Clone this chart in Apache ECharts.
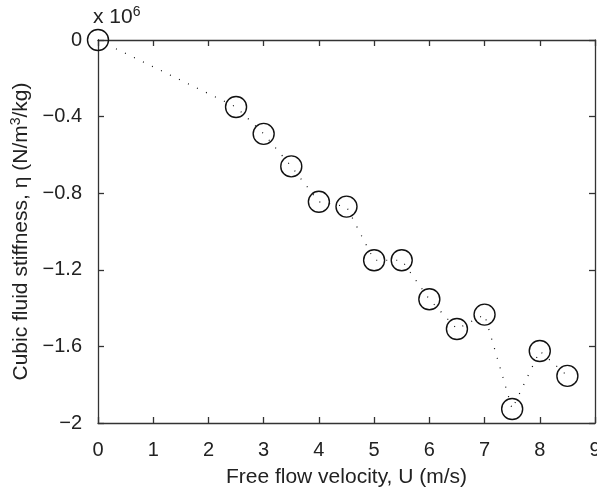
<!DOCTYPE html>
<html><head><meta charset="utf-8">
<script src="https://cdn.jsdelivr.net/npm/echarts@6/dist/echarts.min.js"></script>
<style>html,body{margin:0;padding:0;background:#fff}#c{width:597px;height:496px}</style>
</head><body><div id="c"></div>
<script>
const velocity = [0, 2.5, 3, 3.5, 4, 4.5, 5, 5.5, 6, 6.5, 7, 7.5, 8, 8.5];
const stiffness = [0, -0.35, -0.49, -0.66, -0.845, -0.87, -1.15, -1.15, -1.354, -1.509, -1.434, -1.927, -1.624, -1.754];
const xTicks = [0, 1, 2, 3, 4, 5, 6, 7, 8, 9];
const yTicks = [-2, -1.6, -1.2, -0.8, -0.4, 0];

const chart = echarts.init(document.getElementById('c'));
const font = 'Liberation Sans, Arial, Helvetica, sans-serif';
const txt = '#222';
const axisLine = {show: true, onZero: false, lineStyle: {color: '#333', width: 1.3}};
const tick = {show: true, inside: true, length: 6, lineStyle: {color: '#333', width: 1.3}};
const fmtY = v => {
  const a = parseFloat(Math.abs(v).toFixed(1));
  return v < 0 ? '\u2212' + a : String(a);
};
chart.setOption({
  animation: false,
  backgroundColor: '#fff',
  grid: {left: 98, right: 2, top: 40, bottom: 73, containLabel: false, outerBoundsMode: 'none'},
  graphic: [{
    type: 'text', left: 93, top: 5,
    style: {
      text: 'x 10{sup|6}', fill: txt, font: '21px ' + font,
      rich: {sup: {fontSize: 14, verticalAlign: 'top', padding: [0, 0, 10, 0], fill: txt, fontFamily: font}}
    }
  }],
  xAxis: [{
    type: 'value', min: xTicks[0], max: xTicks[xTicks.length - 1], interval: 1,
    name: 'Free flow velocity, U (m/s)', nameLocation: 'middle', nameGap: 44,
    nameTextStyle: {color: txt, fontSize: 21, fontFamily: font},
    axisLine: axisLine, axisTick: tick, splitLine: {show: false},
    axisLabel: {color: txt, fontSize: 20, fontFamily: font, margin: 17}
  }, {
    type: 'value', position: 'top', min: xTicks[0], max: xTicks[xTicks.length - 1], interval: 1,
    axisLine: axisLine, axisTick: tick, axisLabel: {show: false}, splitLine: {show: false}
  }],
  yAxis: [{
    type: 'value', min: yTicks[0], max: yTicks[yTicks.length - 1], interval: 0.4,
    name: 'Cubic fluid stiffness, \u03B7 (N/m{sup|3}/kg)', nameLocation: 'middle', nameGap: 54,
    nameTextStyle: {color: txt, fontSize: 21, fontFamily: font,
      rich: {sup: {fontSize: 14, verticalAlign: 'top', padding: [0, 0, 10, 0], color: txt, fontFamily: font}}},
    axisLine: axisLine, axisTick: tick, splitLine: {show: false},
    axisLabel: {color: txt, fontSize: 20, fontFamily: font, margin: 16, formatter: fmtY}
  }, {
    type: 'value', position: 'right', min: yTicks[0], max: yTicks[yTicks.length - 1], interval: 0.4,
    axisLine: axisLine, axisTick: tick, axisLabel: {show: false}, splitLine: {show: false}
  }],
  series: [{
    type: 'line',
    data: velocity.map((x, i) => [x, stiffness[i]]),
    clip: false,
    symbol: 'circle', symbolSize: 21, showAllSymbol: true,
    itemStyle: {color: 'rgba(0,0,0,0)', borderColor: '#111', borderWidth: 1.4},
    lineStyle: {color: '#111', width: 1.2, type: [1, 9]},
    z: 3
  }]
});
</script></body></html>
